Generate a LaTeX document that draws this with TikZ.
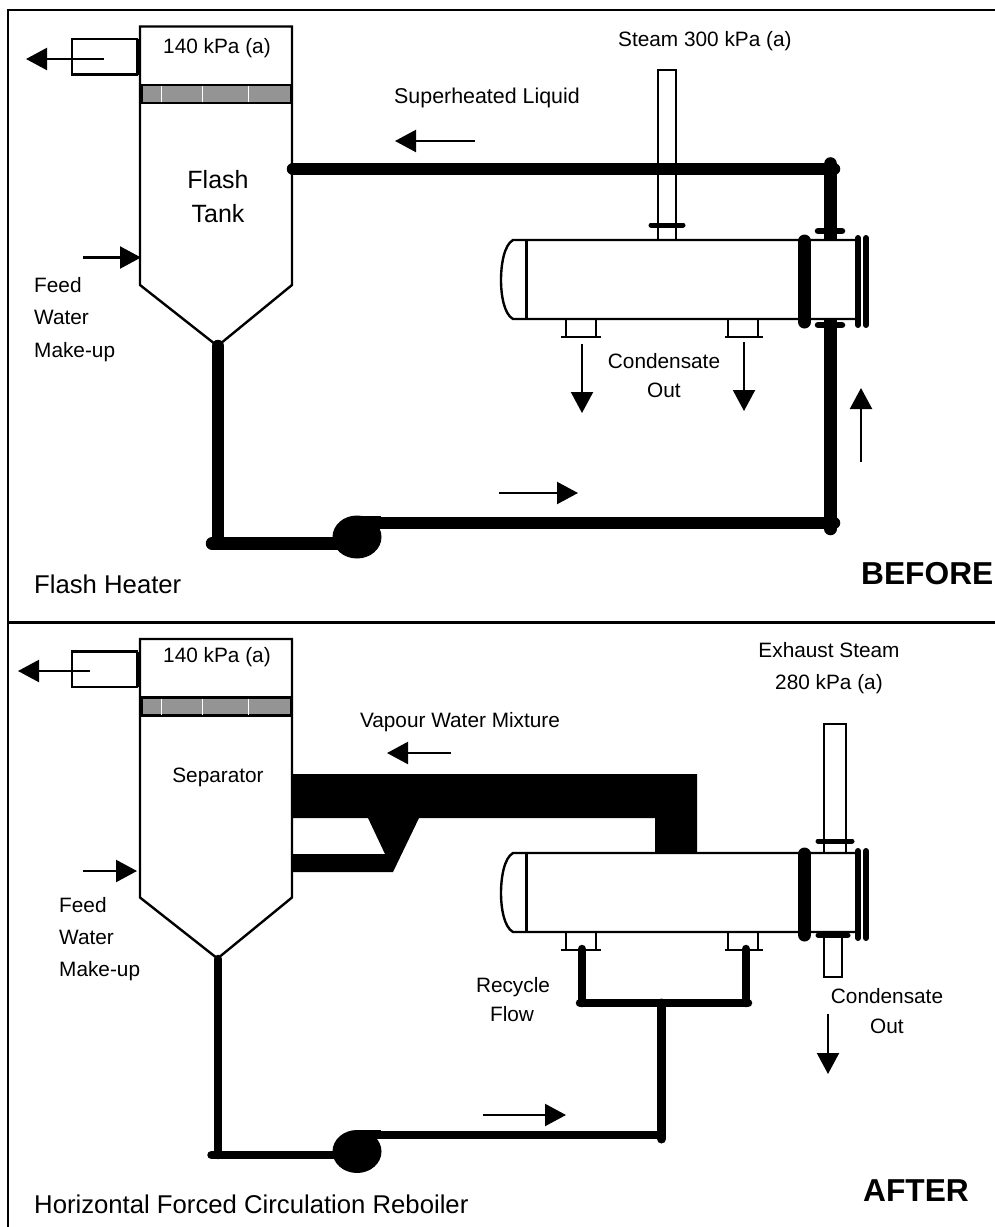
\documentclass[tikz,border=0pt]{standalone}
\usepackage{fontspec}
\setmainfont{Liberation Sans}
\usetikzlibrary{arrows.meta}
\tikzset{
  x=1pt,y=-1pt,
  outline/.style={draw=black,line width=2.4pt},
  pipe/.style={draw=black,line width=12.5pt,line cap=round},
  thinpipe/.style={draw=black,line width=8.5pt,line cap=round},
  lbl/.style={font=\fontsize{20.8}{24}\selectfont,inner sep=0pt,anchor=base},
  lblleft/.style={font=\fontsize{20.8}{24}\selectfont,inner sep=0pt,anchor=base west},
  caption/.style={font=\fontsize{25.7}{30}\selectfont,inner sep=0pt,anchor=base west},
  bigtext/.style={font=\fontsize{31.7}{36}\selectfont\bfseries,inner sep=0pt,anchor=base west},
  flow/.style={draw=black,line width=2.2pt,-{Triangle[length=21pt,width=22pt]}},
  flange/.style={draw=black,line width=6pt,line cap=round},
  mesh/.style={draw=black,line width=2.4pt,fill=black!42},
}
\newcommand{\tankbody}[1]{%
  \begin{scope}[shift={(0,#1)}]
    \draw[outline,fill=white] (140,26.5) -- (292,26.5) -- (292,285) -- (217.5,346) -- (140,285) -- cycle;
    \draw[mesh] (142,85) rectangle (291.5,103);
    \draw[white,line width=0.8pt] (161,86) -- (161,102) (202,86) -- (202,102) (248,86) -- (248,102);
    \draw[outline] (138,39) -- (72,39) -- (72,74.5) -- (138,74.5);
    \draw[outline,line width=3.2pt] (138,39) -- (138,74.5);
  \end{scope}}
\newcommand{\exchanger}[1]{%
  \begin{scope}[shift={(0,#1)}]
    \draw[outline,fill=white] (526,240) -- (513,240) .. controls (504,245) and (501,265) .. (501,280) .. controls (501,295) and (504,314) .. (513,319) -- (858,319) -- (858,240) -- cycle;
    \draw[outline,line width=3pt] (526,240) -- (526,319);
    \draw[outline,fill=white] (566,319) -- (566,337) (596,319) -- (596,337);
    \draw[outline] (561,337) -- (601,337);
    \draw[outline] (728,319) -- (728,337) (758,319) -- (758,337);
    \draw[outline] (725,337) -- (763,337);
    \draw[draw=black,line width=13pt,line cap=round] (804.5,241) -- (804.5,322);
    \draw[flange] (858,238) -- (858,325) (866,238) -- (866,325);
  \end{scope}}
\newcommand{\pumpbody}[2]{%
  \fill[black] (357,#1) ellipse [x radius=24.5, y radius=21.5];
  \fill[black] (357,#1-21.5) rectangle (381,#2);}
\begin{document}
\begin{tikzpicture}
\useasboundingbox (0,0) rectangle (995,1227);
\fill[white] (0,0) rectangle (995,1227);
% frames
\draw[outline,line width=2.6pt] (995,10) -- (8,10) -- (8,1227);
\draw[outline,line width=2.6pt] (8,622.5) -- (995,622.5);

% ---------------- BEFORE ----------------
\tankbody{0}
\node[lbl] (p1) at (217,53) {140 kPa (a)};
\node[lbl,font=\fontsize{25}{30}\selectfont] (t1) at (218,188) {Flash};
\node[lbl,font=\fontsize{25}{30}\selectfont] (t2) at (218,222) {Tank};
\node[lblleft] (f1) at (34,292) {Feed};
\node[lblleft] (f2) at (34,324.5) {Water};
\node[lblleft] (f3) at (34,357) {Make-up};
\coordinate (v1a) at (104,59); \coordinate (v1b) at (26,59);
\draw[flow] (v1a) -- (v1b);
\coordinate (f1a) at (83,257.5); \coordinate (f1b) at (141,257.5);
\draw[flow] (f1a) -- (f1b);
% steam pipe
\draw[outline,fill=white] (658,70) rectangle (676,240);
\draw[flange,line width=5pt] (651,225) -- (683,225);
\node[lblleft] (s1) at (618,46) {Steam 300 kPa (a)};
\node[lblleft,font=\fontsize{21.4}{24}\selectfont] (sl) at (394,103) {Superheated Liquid};
\coordinate (a1a) at (475,141); \coordinate (a1b) at (395,141);
\draw[flow] (a1a) -- (a1b);
% exchanger and circuit
\draw[pipe,line cap=butt] (830.5,163) -- (830.5,240);
\draw[pipe,line cap=round] (293,169) -- (834,169);
\fill[black] (830.5,163.5) circle (6.3pt);
\draw[pipe,line cap=butt] (830.5,319) -- (830.5,527);
\exchanger{0}
\draw[flange,line width=6.5pt] (818,231) -- (842,231);
\draw[flange,line width=6.5pt] (818,325) -- (842,325);
\draw[pipe] (830.5,329) -- (830.5,529);
\draw[pipe] (381,523) -- (834,523);
\draw[pipe] (218,346) -- (218,543);
\draw[pipe] (212,543.5) -- (345,543.5);
\pumpbody{537}{529}
\coordinate (c1a) at (582,344); \coordinate (c1b) at (582,413);
\draw[flow] (c1a) -- (c1b);
\coordinate (c2a) at (744,342); \coordinate (c2b) at (744,411);
\draw[flow] (c2a) -- (c2b);
\coordinate (u1a) at (861,462); \coordinate (u1b) at (861,388);
\draw[flow] (u1a) -- (u1b);
\coordinate (r1a) at (499,493); \coordinate (r1b) at (578,493);
\draw[flow] (r1a) -- (r1b);
\node[lbl] (c1) at (664,368) {Condensate};
\node[lbl] (c2) at (664,397) {Out};
\node[caption] (h1) at (34,593) {Flash Heater};
\node[bigtext] (b1) at (861,584) {BEFORE};

% ---------------- AFTER ----------------
\tankbody{612.5}
\node[lbl] (p2) at (217,662) {140 kPa (a)};
\node[lbl] (sp) at (218,782) {Separator};
\node[lblleft] (g1) at (59,912) {Feed};
\node[lblleft] (g2) at (59,944) {Water};
\node[lblleft] (g3) at (59,976) {Make-up};
\coordinate (v2a) at (90,671); \coordinate (v2b) at (18,671);
\draw[flow] (v2a) -- (v2b);
\coordinate (f2a) at (83,871); \coordinate (f2b) at (137,871);
\draw[flow] (f2a) -- (f2b);
% vapour lines
\fill[black] (293,774) -- (697,774) -- (697,853) -- (655,853) -- (655,818) -- (419,818) -- (393,872) -- (293,872) -- (293,854) -- (385,854) -- (368,818) -- (293,818) -- cycle;
\node[lbl] (vw) at (460,727) {Vapour Water Mixture};
\coordinate (a2a) at (451,753); \coordinate (a2b) at (387,753);
\draw[flow] (a2a) -- (a2b);
% exhaust steam
\draw[outline,fill=white] (824,724) rectangle (846,853);
\draw[flange,line width=5pt] (818,841) -- (852,841);
\draw[outline,fill=white] (824,932) rectangle (842,977);
\exchanger{613}
\draw[flange,line width=5pt] (818,935) -- (848,935);
\node[lbl] (e1) at (829,657) {Exhaust Steam};
\node[lbl] (e2) at (829,689) {280 kPa (a)};
\draw[thinpipe] (582,949) -- (582,1003);
\draw[thinpipe] (746,949) -- (746,1003);
\draw[thinpipe] (580,1003) -- (748,1003);
\draw[thinpipe,line width=9pt] (661.5,1003) -- (661.5,1139);
\draw[thinpipe] (381,1135) -- (661.5,1135);
\draw[thinpipe] (218,959) -- (218,1155);
\draw[thinpipe] (211.5,1155) -- (345,1155);
\pumpbody{1151.5}{1139}
\coordinate (r2a) at (483,1115); \coordinate (r2b) at (566,1115);
\draw[flow] (r2a) -- (r2b);
\node[lbl] (rc) at (513,992) {Recycle};
\node[lbl] (rf) at (512,1021) {Flow};
\node[lbl] (d1) at (887,1003) {Condensate};
\node[lbl] (d2) at (887,1033) {Out};
\coordinate (d2a) at (828,1014); \coordinate (d2b) at (828,1074);
\draw[flow] (d2a) -- (d2b);
\node[caption] (h2) at (34,1213) {Horizontal Forced Circulation Reboiler};
\node[bigtext] (b2) at (863,1201) {AFTER};
\end{tikzpicture}
\end{document}
